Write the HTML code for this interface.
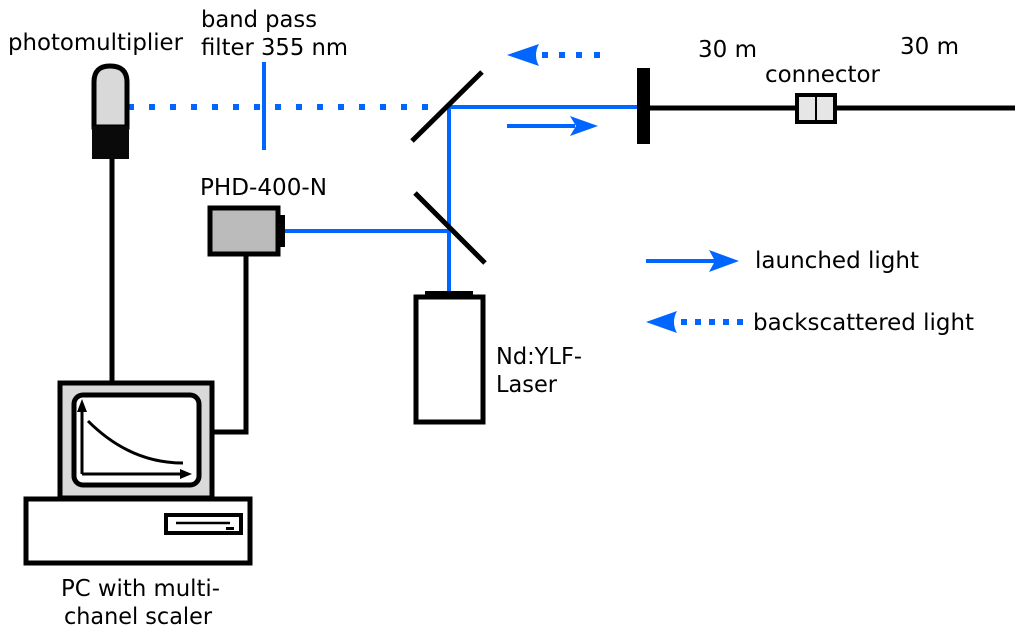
<!DOCTYPE html>
<html><head><meta charset="utf-8"><style>
html,body{margin:0;padding:0;background:#fff;}
svg{display:block;}
</style></head><body>
<svg width="1024" height="636" viewBox="0 0 1024 636" xmlns="http://www.w3.org/2000/svg" font-family="DejaVu Sans, Liberation Sans, sans-serif" font-size="23">
<!-- labels -->
<text x="8" y="50" textLength="175" lengthAdjust="spacingAndGlyphs">photomultiplier</text>
<text x="201" y="27" textLength="116" lengthAdjust="spacingAndGlyphs">band pass</text>
<text x="201" y="55" textLength="147" lengthAdjust="spacingAndGlyphs">filter 355 nm</text>
<text x="200" y="195" textLength="127" lengthAdjust="spacingAndGlyphs">PHD-400-N</text>
<text x="698" y="57" textLength="59" lengthAdjust="spacingAndGlyphs">30 m</text>
<text x="900" y="54" textLength="59" lengthAdjust="spacingAndGlyphs">30 m</text>
<text x="765" y="82" textLength="115" lengthAdjust="spacingAndGlyphs">connector</text>
<text x="755" y="268" textLength="164" lengthAdjust="spacingAndGlyphs">launched light</text>
<text x="753" y="330" textLength="221" lengthAdjust="spacingAndGlyphs">backscattered light</text>
<text x="496" y="364" textLength="86" lengthAdjust="spacingAndGlyphs">Nd:YLF-</text>
<text x="496" y="392" textLength="61" lengthAdjust="spacingAndGlyphs">Laser</text>
<text x="61" y="596" textLength="159" lengthAdjust="spacingAndGlyphs">PC with multi-</text>
<text x="64" y="624" textLength="148" lengthAdjust="spacingAndGlyphs">chanel scaler</text>

<!-- blue beams -->
<g stroke="#0066ff" stroke-width="4" fill="none">
<line x1="264" y1="62" x2="264" y2="150"/>
<line x1="449" y1="107" x2="637" y2="107"/>
<line x1="449" y1="107" x2="449" y2="295"/>
<line x1="284" y1="231" x2="449" y2="231"/>
<line x1="507" y1="126" x2="575" y2="126"/>
<line x1="646" y1="261" x2="715" y2="261"/>
</g>
<g fill="#0066ff">
<rect x="128" y="104" width="6" height="6"/><rect x="149" y="104" width="6" height="6"/><rect x="170" y="104" width="6" height="6"/><rect x="191" y="104" width="6" height="6"/><rect x="212" y="104" width="6" height="6"/><rect x="233" y="104" width="6" height="6"/><rect x="254" y="104" width="6" height="6"/><rect x="275" y="104" width="6" height="6"/><rect x="296" y="104" width="6" height="6"/><rect x="317" y="104" width="6" height="6"/><rect x="338" y="104" width="6" height="6"/><rect x="359" y="104" width="6" height="6"/><rect x="380" y="104" width="6" height="6"/><rect x="401" y="104" width="6" height="6"/><rect x="422" y="104" width="6" height="6"/>
<path d="M507 55 L539 44 Q533 55 539 66 Z"/>
<rect x="542" y="52" width="6" height="6"/><rect x="559" y="52" width="6" height="6"/><rect x="576" y="52" width="6" height="6"/><rect x="594" y="52" width="6" height="6"/>
<path d="M598 126 L570 116 L576 126 L570 136 Z"/>
<path d="M739 261 L709 250 L715 261 L709 272 Z"/>
<path d="M646 322 L677 311 Q671 322 677 333 Z"/>
<rect x="681" y="319" width="6" height="6"/><rect x="695" y="319" width="6" height="6"/><rect x="709" y="319" width="6" height="6"/><rect x="723" y="319" width="6" height="6"/><rect x="737" y="319" width="6" height="6"/>
</g>

<!-- black parts -->
<g stroke="#000" stroke-width="5" fill="none">
<line x1="412" y1="141" x2="482" y2="72"/>
<line x1="415" y1="193" x2="485" y2="263"/>
<line x1="649" y1="108" x2="796" y2="108"/>
<line x1="835" y1="108" x2="1015" y2="108"/>
<line x1="112" y1="158" x2="112" y2="382"/>
<polyline points="246,255 246,432 213,432"/>
</g>
<rect x="637" y="68" width="13" height="76" fill="#000"/>
<rect x="797" y="95" width="38" height="27" fill="#e6e6e6" stroke="#000" stroke-width="4"/>
<line x1="816" y1="95" x2="816" y2="122" stroke="#000" stroke-width="2"/>

<!-- photomultiplier -->
<path d="M94 127 L94 82 Q94 66 110 66 Q127 66 127 82 L127 127 Z" fill="#d9d9d9" stroke="#000" stroke-width="5"/>
<rect x="92" y="126" width="37" height="33" fill="#0a0a0a"/>

<!-- PHD -->
<rect x="210" y="208" width="68" height="46" fill="#bbbbbb" stroke="#000" stroke-width="5"/>
<rect x="278" y="215" width="7" height="32" fill="#000"/>

<!-- laser -->
<rect x="425" y="291" width="48" height="7" fill="#000"/>
<rect x="416" y="297" width="67" height="125" fill="#fff" stroke="#000" stroke-width="5"/>

<!-- PC -->
<rect x="60" y="383" width="152" height="115" fill="#d9d9d9" stroke="#000" stroke-width="5"/>
<rect x="74" y="395" width="125" height="90" rx="9" fill="#fff" stroke="#000" stroke-width="5"/>
<g stroke="#000" stroke-width="3" fill="none">
<line x1="82" y1="404" x2="82" y2="474"/>
<line x1="82" y1="474" x2="186" y2="474"/>
<path d="M88 421 Q130 463 183 463"/>
</g>
<path d="M82 399 L77 412 L87 412 Z M192 474 L180 469 L180 479 Z" fill="#000"/>
<rect x="26" y="499" width="224" height="64" fill="#fff" stroke="#000" stroke-width="5"/>
<rect x="166" y="515" width="75" height="18" fill="#fff" stroke="#000" stroke-width="4"/>
<line x1="176" y1="523" x2="230" y2="523" stroke="#000" stroke-width="2.5"/>
<rect x="226" y="527" width="8" height="3" fill="#000"/>
</svg>
</body></html>
